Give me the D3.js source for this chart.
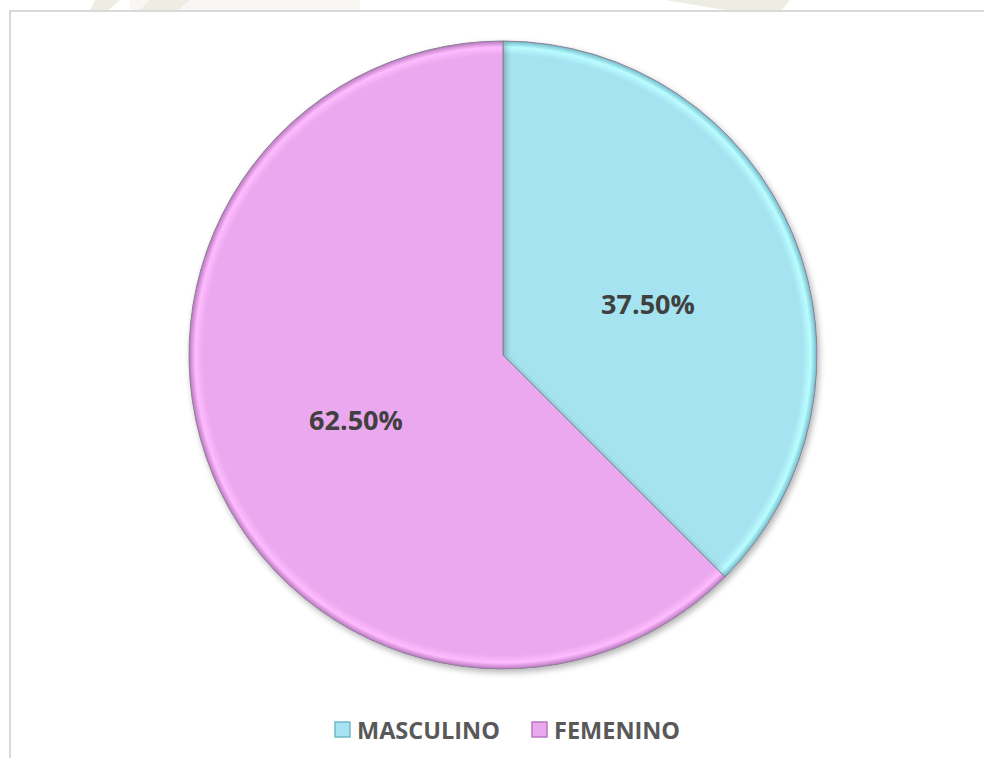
<!DOCTYPE html>
<html>
<head>
<meta charset="utf-8">
<script src="https://cdn.jsdelivr.net/npm/d3@7"></script>
<style>
  body { margin: 0; background: #fff; }
  svg { display: block; }
</style>
</head>
<body>
<svg id="chart" width="984" height="758"></svg>
<script>
// data
const categories = ["MASCULINO", "FEMENINO"];
const values = [37.5, 62.5];
const labels = ["37.50%", "62.50%"];
const colors = ["#a6e3f0", "#eaa8ee"];
const darkColors = ["#6fb9c9", "#b877be"];

const svg = d3.select("#chart"),
    width = +svg.attr("width"),
    height = +svg.attr("height");

// faint background watermark at the very top
svg.append("rect").attr("x", 130).attr("y", 0).attr("width", 230).attr("height", 10).attr("fill", "#f8f7f3");
svg.append("path").attr("d", "M95,0 L120,0 L108,10 L90,10 Z M150,0 L190,0 L178,10 L140,10 Z").attr("fill", "#eeede4");
svg.append("path").attr("d", "M665,0 L790,0 L782,10 L725,10 Z").attr("fill", "#eeede4");

// chart frame
svg.append("rect")
    .attr("x", 10).attr("y", 11)
    .attr("width", 990).attr("height", 760)
    .attr("fill", "#fff")
    .attr("stroke", "#d9d9d9")
    .attr("stroke-width", 2);

const defs = svg.append("defs");

const shadow = defs.append("filter").attr("id", "shadow")
    .attr("x", "-10%").attr("y", "-10%").attr("width", "120%").attr("height", "120%");
shadow.append("feGaussianBlur").attr("in", "SourceAlpha").attr("stdDeviation", 3);
shadow.append("feOffset").attr("dx", 2).attr("dy", 3).attr("result", "b");
shadow.append("feComponentTransfer").append("feFuncA").attr("type", "linear").attr("slope", 0.3);
const merge = shadow.append("feMerge");
merge.append("feMergeNode");
merge.append("feMergeNode").attr("in", "SourceGraphic");

const cx = 503, cy = 355, r = 314;

// bevel-ish gradients per slice (group is translated, so centre is 0,0)
colors.forEach((c, i) => {
    const g = defs.append("radialGradient")
        .attr("id", "grad" + i)
        .attr("gradientUnits", "userSpaceOnUse")
        .attr("cx", 0).attr("cy", 0).attr("r", r);
    g.append("stop").attr("offset", "0%").attr("stop-color", c);
    g.append("stop").attr("offset", "95.5%").attr("stop-color", c);
    g.append("stop").attr("offset", "98%").attr("stop-color", d3.color(c).brighter(0.3));
    g.append("stop").attr("offset", "100%").attr("stop-color", darkColors[i]);
});

const pie = d3.pie().sort(null).value(d => d);
const arc = d3.arc().innerRadius(0).outerRadius(r);
const arcs = pie(values);

const g = svg.append("g").attr("transform", `translate(${cx},${cy})`);

g.selectAll("path.slice")
    .data(arcs).enter()
    .append("path")
    .attr("class", "slice")
    .attr("d", arc)
    .attr("fill", (d, i) => `url(#grad${i})`)
    .attr("stroke", "#8a7f94")
    .attr("stroke-width", 1)
    .attr("filter", "url(#shadow)");

// labels
const labelPos = [[145, -52], [-147, 64]];
g.selectAll("text.lbl")
    .data(arcs).enter()
    .append("text")
    .attr("class", "lbl")
    .attr("x", (d, i) => labelPos[i][0])
    .attr("y", (d, i) => labelPos[i][1])
    .attr("text-anchor", "middle")
    .attr("dominant-baseline", "central")
    .attr("font-family", "'Open Sans', sans-serif")
    .attr("font-weight", "bold")
    .attr("font-size", 27)
    .attr("fill", "#404040")
    .text((d, i) => labels[i]);

// legend
const legendX = [335, 532];
const legend = svg.append("g");
const items = legend.selectAll("g")
    .data(categories).enter()
    .append("g")
    .attr("transform", (d, i) => `translate(${legendX[i]},722)`);

items.append("rect")
    .attr("width", 15).attr("height", 15)
    .attr("fill", (d, i) => colors[i])
    .attr("stroke", (d, i) => darkColors[i])
    .attr("stroke-width", 1.5);

items.append("text")
    .attr("x", 22)
    .attr("y", 8)
    .attr("dominant-baseline", "central")
    .attr("font-family", "'Open Sans', sans-serif")
    .attr("font-weight", "bold")
    .attr("font-size", 23.5)
    .attr("fill", "#595959")
    .text(d => d);
</script>
</body>
</html>
